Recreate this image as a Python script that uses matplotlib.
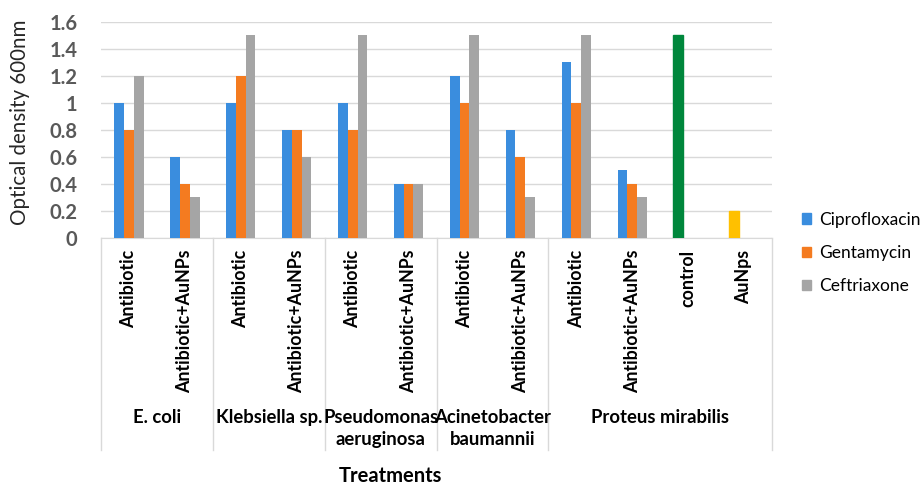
import numpy as np
import matplotlib.pyplot as plt
from matplotlib.transforms import blended_transform_factory

plt.rcParams['font.family'] = ['Lato', 'DejaVu Sans']

# treatments along the x axis, grouped by organism
treatments = ['Antibiotic', 'Antibiotic+AuNPs'] * 5 + ['control', 'AuNps']
organisms = ['E. coli', 'Klebsiella sp.', 'Pseudomonas\naeruginosa',
             'Acinetobacter\nbaumannii', 'Proteus mirabilis']
organism_spans = [(0, 2), (2, 4), (4, 6), (6, 8), (8, 12)]

series = ['Ciprofloxacin', 'Gentamycin', 'Ceftriaxone']
cipro = [1.0, 0.6, 1.0, 0.8, 1.0, 0.4, 1.2, 0.8, 1.3, 0.5, 1.5, 0.2]
genta = [0.8, 0.4, 1.2, 0.8, 0.8, 0.4, 1.0, 0.6, 1.0, 0.4, 0, 0]
ceftri = [1.2, 0.3, 1.5, 0.6, 1.5, 0.4, 1.5, 0.3, 1.5, 0.3, 0, 0]
colors = ['#3A8DDE', '#F47B20', '#A5A5A5']

fig = plt.figure(figsize=(9.21, 4.86), dpi=100)
ax = fig.add_axes([101 / 921, 1 - 238 / 486, 671 / 921, 216 / 486])

x = np.arange(len(treatments)) + 0.5
w = 0.175
bars = []
for k, (vals, c) in enumerate(zip([cipro, genta, ceftri], colors)):
    bars.append(ax.bar(x + (k - 1) * w, vals, w, color=c, label=series[k], zorder=3))

# control and nanoparticle-only bars get their own colours
bars[0][10].set_color('#00873C')
bars[0][11].set_color('#FFC000')

ax.set_xlim(0, 12)
ax.set_ylim(0, 1.6)
ax.set_yticks(np.arange(0, 1.61, 0.2))
ax.set_yticklabels(['0', '0.2', '0.4', '0.6', '0.8', '1', '1.2', '1.4', '1.6'],
                   fontsize=14.5, fontweight='bold', color='#595959')
ax.tick_params(axis='y', length=0, pad=17)
ax.set_xticks([])
ax.grid(axis='y', color='#D9D9D9', linewidth=1, zorder=0)
for s in ['left', 'right', 'top']:
    ax.spines[s].set_visible(False)
ax.spines['bottom'].set_color('#D9D9D9')

# two-level category axis
tr = blended_transform_factory(ax.transData, ax.transAxes)
for xi, lab in zip(x, treatments):
    ax.text(xi, -0.055, lab, transform=tr, rotation=90, ha='center', va='top',
            fontsize=12.8, fontweight='bold')
for b in [0, 2, 4, 6, 8, 12]:
    ax.plot([b, b], [0, -0.98], transform=tr, color='#D9D9D9', lw=1, clip_on=False)
for (a, b), name in zip(organism_spans, organisms):
    ax.text((a + b) / 2, -0.79, name, transform=tr, ha='center', va='top',
            fontsize=13.3, fontweight='bold', linespacing=1.35)

fig.text(390 / 921, 1 - 476 / 486, 'Treatments', ha='center', va='center',
         fontsize=14.5, fontweight='bold')
fig.text(20 / 921, 1 - 122 / 486, 'Optical density 600nm', rotation=90,
         ha='center', va='center', fontsize=14.8, color='#262626')

fig.legend(handles=[b[0] for b in bars], labels=series, loc='upper left',
           bbox_to_anchor=(786 / 921, 1 - 196 / 486), frameon=False,
           fontsize=12.5, handlelength=0.55, handleheight=0.55, handletextpad=0.45,
           labelspacing=1.0)
for h, c in zip(fig.legends[0].legend_handles, colors):
    h.set_color(c)

fig.savefig('out.png', dpi=100)
